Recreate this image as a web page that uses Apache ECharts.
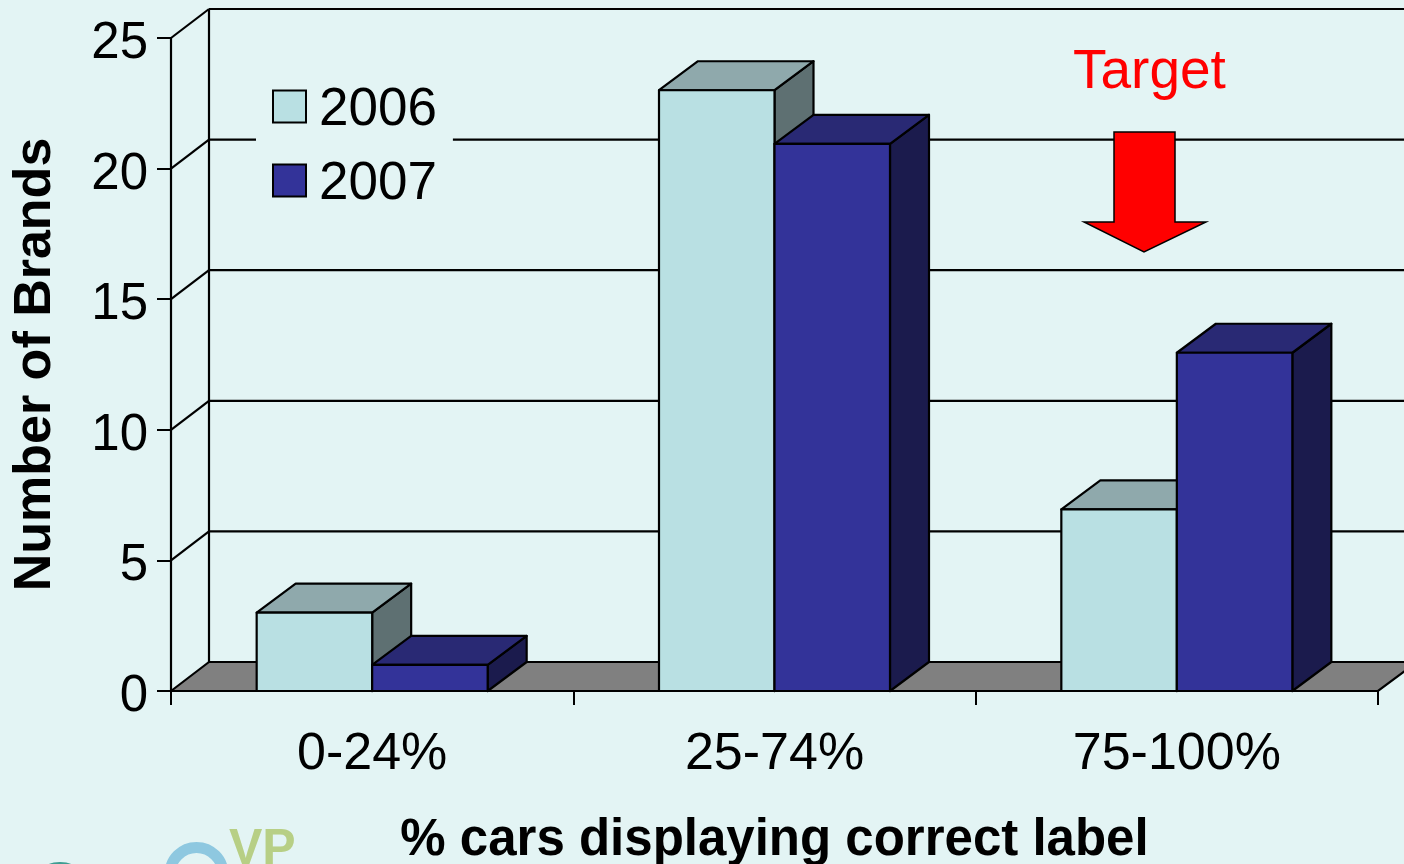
<!DOCTYPE html>
<html>
<head>
<meta charset="utf-8">
<style>
  html, body { margin: 0; padding: 0; background: #e3f4f4; }
  #main { width: 1404px; height: 864px; }
</style>
<script src="https://cdn.jsdelivr.net/npm/echarts@6/dist/echarts.min.js"></script>
</head>
<body>
<div id="main"></div>
<script>
var categories = ['0-24%', '25-74%', '75-100%'];
var values2006 = [3, 23, 6.95];
var values2007 = [1, 20.95, 12.95];
var yTicks = [0, 5, 10, 15, 20, 25];

// depth of the fake 3d box, in pixels
var DX = 39, DY = -29;
var BAR_W = 115.5;
var FONT = '"Liberation Sans", Arial, sans-serif';

function boxItem(faces, side) {
  return function (params, api) {
    var cat = api.value(0);
    var top = api.coord([cat, api.value(1)]);
    var base = api.coord([cat, 0]);
    var x0 = side < 0 ? top[0] - BAR_W : top[0];
    var x1 = x0 + BAR_W;
    var line = { stroke: '#000', lineWidth: 2.2, lineJoin: 'round' };
    return {
      type: 'group',
      children: [
        { type: 'polygon', shape: { points: [[x1, top[1]], [x1 + DX, top[1] + DY], [x1 + DX, base[1] + DY], [x1, base[1]]] },
          style: Object.assign({ fill: faces.side }, line) },
        { type: 'polygon', shape: { points: [[x0, top[1]], [x0 + DX, top[1] + DY], [x1 + DX, top[1] + DY], [x1, top[1]]] },
          style: Object.assign({ fill: faces.top }, line) },
        { type: 'rect', shape: { x: x0, y: top[1], width: BAR_W, height: base[1] - top[1] },
          style: Object.assign({ fill: faces.front }, line) }
      ]
    };
  };
}

// back wall and left wall lines, one per y tick
function wallItem(params, api) {
  var v = api.value(0);
  var p = api.coord([0, v]);
  var x0 = p[0] - api.size([1, 0])[0] / 2;
  var line = { stroke: '#000', lineWidth: 2.2 };
  return {
    type: 'group',
    children: [
      { type: 'line', shape: { x1: x0, y1: p[1], x2: x0 + DX - 1, y2: p[1] + DY }, style: line },
      { type: 'line', shape: { x1: x0 + DX - 1, y1: p[1] + DY, x2: 1404, y2: p[1] + DY }, style: line }
    ]
  };
}

function floorItem(params, api) {
  var size = api.size([1, 0])[0];
  var a = api.coord([0, 0]);
  var b = api.coord([categories.length - 1, 0]);
  var top = api.coord([0, 25]);
  var x0 = a[0] - size / 2, x1 = b[0] + size / 2;
  return {
    type: 'group',
    children: [
      { type: 'polygon', shape: { points: [[x0, a[1]], [x0 + DX - 1, a[1] + DY], [x1 + DX, a[1] + DY], [x1, a[1]]] },
        style: { fill: '#808080', stroke: '#000', lineWidth: 2.2 } },
      { type: 'line', shape: { x1: x0 + DX - 1, y1: a[1] + DY, x2: x0 + DX - 1, y2: top[1] + DY },
        style: { stroke: '#000', lineWidth: 2.2 } }
    ]
  };
}

var chart = echarts.init(document.getElementById('main'));
chart.setOption({
  backgroundColor: '#e3f4f4',
  animation: false,
  textStyle: { fontFamily: FONT },
  grid: { left: 171, right: 26, top: 38, height: 653, outerBoundsMode: 'none' },
  legend: {
    left: 256, top: 66,
    orient: 'vertical',
    data: [{ name: '2006', icon: 'rect' }, { name: '2007', icon: 'rect' }],
    backgroundColor: '#e3f4f4',
    padding: [18, 16, 12, 16],
    itemWidth: 33, itemHeight: 32, itemGap: 21,
    selectedMode: false,
    formatter: '{t|{name}}',
    textStyle: {
      fontSize: 53, fontFamily: FONT, color: '#000',
      rich: { t: { fontSize: 53, fontFamily: FONT, color: '#000', padding: [8, 0, 0, 8] } }
    }
  },
  xAxis: {
    type: 'category',
    data: categories,
    axisLine: { lineStyle: { color: '#000', width: 2.2 } },
    axisTick: { show: true, length: 14, lineStyle: { color: '#000', width: 2 } },
    axisLabel: { fontSize: 52, color: '#000', margin: 38, fontFamily: FONT },
    name: '% cars displaying correct label',
    nameLocation: 'middle',
    nameGap: 124,
    nameTextStyle: { fontSize: 51, fontWeight: 'bold', color: '#000', fontFamily: FONT }
  },
  yAxis: {
    type: 'value',
    min: 0, max: 25, interval: 5,
    axisLine: { show: true, lineStyle: { color: '#000', width: 2.2 } },
    axisTick: { show: true, length: 14, lineStyle: { color: '#000', width: 2 } },
    axisLabel: { fontSize: 51, color: '#000', margin: 23, fontFamily: FONT, verticalAlign: 'top', lineHeight: 12 },
    splitLine: { show: false },
    name: 'Number of Brands',
    nameLocation: 'middle',
    nameGap: 109,
    nameRotate: 90,
    nameTextStyle: { fontSize: 52, fontWeight: 'bold', color: '#000', fontFamily: FONT }
  },
  series: [
    { type: 'custom', silent: true, legendHoverLink: false, z: 1, renderItem: floorItem, data: [[0]], encode: { x: -1, y: -1 }, clip: false },
    { type: 'custom', silent: true, legendHoverLink: false, z: 1, renderItem: wallItem, data: yTicks.slice(1).map(function (v) { return [v]; }), encode: { x: -1, y: 0 }, clip: false },
    { name: '2006', type: 'custom', z: 2, clip: false,
      itemStyle: { color: '#b9e0e3', borderColor: '#000', borderWidth: 2 },
      renderItem: boxItem({ front: '#b9e0e3', top: '#8fa9ac', side: '#5e7072' }, -1),
      encode: { x: 0, y: 1 },
      data: values2006.map(function (v, i) { return [i, v]; }) },
    { name: '2007', type: 'custom', z: 3, clip: false,
      itemStyle: { color: '#333399', borderColor: '#000', borderWidth: 2 },
      renderItem: boxItem({ front: '#333399', top: '#292974', side: '#1b1b4d' }, 1),
      encode: { x: 0, y: 1 },
      data: values2007.map(function (v, i) { return [i, v]; }) }
  ],
  graphic: [
    { type: 'text', left: 1073, top: 45, z: 10, style: { text: 'Target', fontSize: 55, fill: '#ff0000', fontFamily: FONT } },
    { type: 'polygon', z: 10,
      shape: { points: [[1114, 132], [1175, 132], [1175, 222], [1206, 222], [1144, 252], [1084, 222], [1114, 222]] },
      style: { fill: '#ff0000', stroke: '#000', lineWidth: 1.5 } },
    // logo cut off by the bottom edge
    { type: 'text', left: 229, top: 825, z: 10, style: { text: 'VP', fontSize: 50, fontWeight: 'bold', fill: '#b7cf85', fontFamily: FONT } },
    { type: 'circle', z: 10, shape: { cx: 196.5, cy: 874, r: 26.5 }, style: { fill: 'none', stroke: '#8ec8e0', lineWidth: 11 } },
    { type: 'ellipse', z: 10, shape: { cx: 60, cy: 868, rx: 15, ry: 6 }, style: { fill: '#3f9d92' } }
  ]
});
</script>
</body>
</html>
